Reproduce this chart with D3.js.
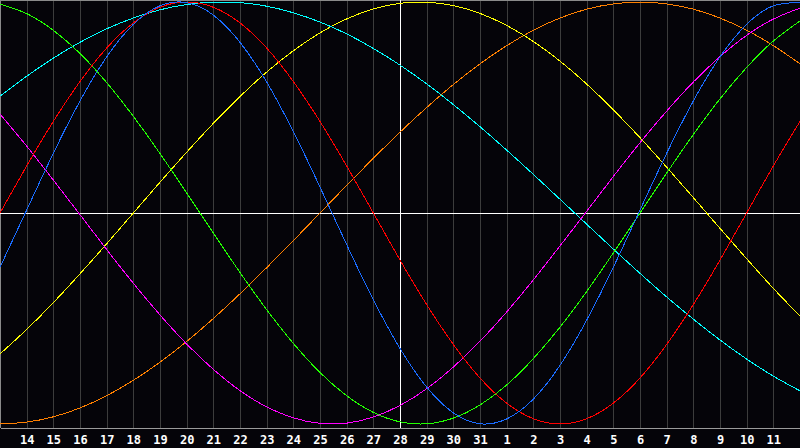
<!DOCTYPE html>
<html>
<head>
<meta charset="utf-8">
<script src="https://cdn.jsdelivr.net/npm/d3@7"></script>
<style>
  html, body { margin: 0; padding: 0; background: #050409; }
  svg { display: block; }
  .axis text { fill: #ffffff; font-family: "DejaVu Sans Mono", monospace; font-weight: bold; font-size: 12px; }
  .axis .domain { stroke: #9a9a9a; }
  .axis .tick line { stroke: #3c3c3c; }
</style>
</head>
<body>
<div id="chart"></div>
<script>
// day labels, one per day from the left edge (13th) to the right edge (12th)
var dayLabels = [13, 14, 15, 16, 17, 18, 19, 20, 21, 22, 23, 24, 25, 26, 27, 28,
  29, 30, 31, 1, 2, 3, 4, 5, 6, 7, 8, 9, 10, 11, 12];

// cycle values in percent, one per day
var physical = [-25.7, 1.4, 28.3, 53.1, 74.0, 89.4, 98.2, 99.7, 93.8, 80.9, 62.1, 38.6,
  12.3, -15.0, -41.1, -64.2, -82.5, -94.7, -99.9, -97.6, -88.2, -72.2, -50.8, -25.7,
  1.4, 28.3, 53.1, 74.0, 89.4, 98.2, 99.7];
var emotional = [0, 22.3, 43.4, 62.3, 78.2, 90.1, 97.5, 100, 97.5, 90.1, 78.2, 62.3,
  43.4, 22.3, 0, -22.3, -43.4, -62.3, -78.2, -90.1, -97.5, -100, -97.5, -90.1,
  -78.2, -62.3, -43.4, -22.3, 0, 22.3, 43.4];
var intellectual = [99.0, 94.5, 86.6, 75.6, 61.8, 45.8, 28.2, 9.5, -9.5, -28.2, -45.8,
  -61.8, -75.6, -86.6, -94.5, -99.0, -99.9, -97.2, -91.0, -81.5, -69.0, -54.1, -37.2,
  -18.9, 0, 18.9, 37.2, 54.1, 69.0, 81.5, 91.0];
var intuitive = [46.9, 31.7, 15.6, -0.8, -17.3, -33.3, -48.3, -62.1, -74.1, -84.2, -91.9,
  -97.1, -99.7, -99.6, -96.7, -91.2, -83.3, -73.0, -60.8, -46.9, -31.7, -15.6, 0.8,
  17.3, 33.3, 48.3, 62.1, 74.1, 84.2, 91.9, 97.1];
var aesthetic = [-66.8, -55.2, -42.5, -28.8, -14.6, 0, 14.6, 28.8, 42.5, 55.2, 66.8,
  76.9, 85.4, 92.0, 96.7, 99.4, 99.9, 98.3, 94.6, 88.9, 81.3, 72.0, 61.1, 48.9, 35.7,
  21.7, 7.3, -7.3, -21.7, -35.7, -48.9];
var awareness = [-100, -99.1, -96.6, -92.4, -86.6, -79.3, -70.7, -60.9, -50.0, -38.3,
  -25.9, -13.1, 0, 13.1, 25.9, 38.3, 50.0, 60.9, 70.7, 79.3, 86.6, 92.4, 96.6, 99.1,
  100, 99.1, 96.6, 92.4, 86.6, 79.3, 70.7];
var spiritual = [55.4, 64.8, 73.4, 80.9, 87.3, 92.4, 96.3, 98.8, 99.9, 99.7, 98.0, 94.9,
  90.5, 84.9, 78.0, 70.1, 61.2, 51.4, 40.9, 29.8, 18.3, 6.5, -5.3, -17.1, -28.6, -39.8,
  -50.3, -60.2, -69.2, -77.3, -84.3];

var todayIndex = 15;

var seriesList = [
  { name: "Awareness", values: awareness, color: "#ff8000" },
  { name: "Aesthetic", values: aesthetic, color: "#ffff00" },
  { name: "Spiritual", values: spiritual, color: "#00ffff" },
  { name: "Intuitive", values: intuitive, color: "#ff00ff" },
  { name: "Intellectual", values: intellectual, color: "#22ff00" },
  { name: "Emotional", values: emotional, color: "#ff0000" },
  { name: "Physical", values: physical, color: "#1a6cff" }
];

// svg size
var svgWidth = 800;
var svgHeight = 448;
var plotBottom = 428;

var svg = d3.select("#chart")
  .append("svg")
  .attr("width", svgWidth)
  .attr("height", svgHeight);

svg.append("rect")
  .attr("width", svgWidth)
  .attr("height", svgHeight)
  .attr("fill", "#050409");

// scales
var xScale = d3.scaleLinear()
  .domain([0, dayLabels.length - 1])
  .range([0, svgWidth]);

var yScale = d3.scaleLinear()
  .domain([-100, 100])
  .range([424, 2]);

// day axis with grid lines going up to the top
var bottomAxis = d3.axisBottom(xScale)
  .tickValues(d3.range(1, dayLabels.length - 1))
  .tickFormat(i => dayLabels[i])
  .tickSize(-plotBottom)
  .tickSizeOuter(0)
  .tickPadding(7);

svg.append("g")
  .attr("class", "axis")
  .attr("transform", `translate(0, ${plotBottom})`)
  .attr("shape-rendering", "crispEdges")
  .call(bottomAxis);

// frame on top and left
svg.append("line")
  .attr("x1", 0).attr("x2", svgWidth)
  .attr("y1", 0.5).attr("y2", 0.5)
  .attr("stroke", "#8a8a8a");
svg.append("line")
  .attr("x1", 0.5).attr("x2", 0.5)
  .attr("y1", 0).attr("y2", plotBottom)
  .attr("stroke", "#8a8a8a");

// zero line and today marker
svg.append("line")
  .attr("x1", 0).attr("x2", svgWidth)
  .attr("y1", Math.round(yScale(0)) + 0.5).attr("y2", Math.round(yScale(0)) + 0.5)
  .attr("stroke", "#ffffff");
svg.append("line")
  .attr("x1", xScale(todayIndex) + 0.5).attr("x2", xScale(todayIndex) + 0.5)
  .attr("y1", 0).attr("y2", plotBottom)
  .attr("stroke", "#ffffff");

// the cycle curves
var line = d3.line()
  .x((d, i) => xScale(i))
  .y(d => yScale(d))
  .curve(d3.curveNatural);

svg.selectAll(".cycle")
  .data(seriesList)
  .enter()
  .append("path")
  .attr("class", "cycle")
  .attr("d", d => line(d.values))
  .attr("fill", "none")
  .attr("stroke", d => d.color)
  .attr("stroke-width", 1)
  .attr("shape-rendering", "crispEdges");
</script>
</body>
</html>
